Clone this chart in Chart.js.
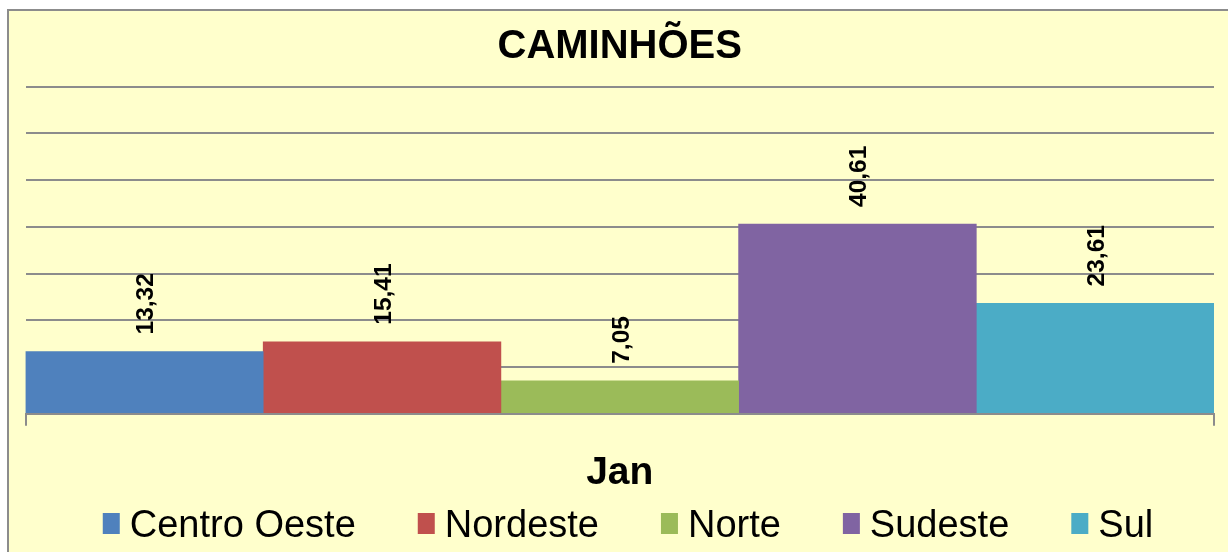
<!DOCTYPE html>
<html>
<head>
<meta charset="utf-8">
<script src="https://cdn.jsdelivr.net/npm/chart.js@4.4.0/dist/chart.umd.min.js"></script>
<style>
    html, body { margin: 0; padding: 0; background: #ffffff; overflow: hidden; }
    #frame {
        position: absolute; left: 7px; top: 9px; width: 1300px; height: 600px;
        background: #ffffcc; border: 2px solid #8c8c8c;
    }
    #chart { position: absolute; left: 0; top: 0; }
</style>
</head>
<body>
<div id="frame"></div>
<canvas id="chart" width="1228" height="552"></canvas>
<script>
// Chart data
const categories = ['Jan'];
const seriesNames = ['Centro Oeste', 'Nordeste', 'Norte', 'Sudeste', 'Sul'];
const seriesValues = [[13.32], [15.41], [7.05], [40.61], [23.61]];
const seriesColors = ['#4f81bd', '#c0504d', '#9bbb59', '#8064a2', '#4bacc6'];
const yTicks = [0, 10, 20, 30, 40, 50, 60, 70];

const FONT = "'Liberation Sans', Arial, sans-serif";
const GRID = '#8c8c8c';

// Rotated value labels above each bar
const valueLabels = {
    id: 'valueLabels',
    afterDatasetsDraw(chart) {
        const ctx = chart.ctx;
        ctx.save();
        ctx.font = 'bold 24.5px ' + FONT;
        ctx.fillStyle = '#000000';
        ctx.textAlign = 'left';
        ctx.textBaseline = 'middle';
        chart.data.datasets.forEach((ds, i) => {
            const meta = chart.getDatasetMeta(i);
            meta.data.forEach((bar, j) => {
                const text = ds.data[j].toFixed(2).replace('.', ',');
                ctx.save();
                ctx.translate(bar.x + 2, bar.y - 17);
                ctx.rotate(-Math.PI / 2);
                ctx.fillText(text, 0, 0);
                ctx.restore();
            });
        });
        ctx.restore();
    }
};

// Legend drawn at the bottom with tight key/text spacing
const bottomLegend = {
    id: 'bottomLegend',
    afterDraw(chart) {
        const ctx = chart.ctx;
        ctx.save();
        ctx.font = '38px ' + FONT;
        const boxW = 17, boxH = 21, gap = 10, spacing = 62;
        const widths = seriesNames.map(n => boxW + gap + ctx.measureText(n).width);
        const total = widths.reduce((a, b) => a + b, 0) + spacing * (widths.length - 1);
        let x = 628 - total / 2;
        const baseY = 537;
        seriesNames.forEach((name, i) => {
            ctx.fillStyle = seriesColors[i];
            ctx.fillRect(x, 513, boxW, boxH);
            ctx.fillStyle = '#000000';
            ctx.textBaseline = 'alphabetic';
            ctx.textAlign = 'left';
            ctx.fillText(name, x + boxW + gap, baseY);
            x += widths[i] + spacing;
        });
        ctx.restore();
    }
};

const datasets = seriesNames.map((name, i) => ({
    label: name,
    data: seriesValues[i],
    backgroundColor: seriesColors[i],
    borderWidth: 0,
    categoryPercentage: 1,
    barPercentage: 1
}));

new Chart(document.getElementById('chart'), {
    type: 'bar',
    data: { labels: categories, datasets: datasets },
    options: {
        responsive: false,
        animation: false,
        layout: { padding: { left: 25.5, right: 14, top: 0, bottom: 31.5 } },
        plugins: {
            legend: { display: false },
            tooltip: { enabled: false },
            title: {
                display: true,
                text: 'CAMINHÕES',
                color: '#000000',
                font: { family: FONT, size: 40, weight: 'bold' },
                padding: { top: 22.5, bottom: 16.2 }
            }
        },
        scales: {
            x: {
                grid: {
                    display: true,
                    drawOnChartArea: false,
                    drawTicks: true,
                    tickLength: 12,
                    color: GRID,
                    lineWidth: 2
                },
                border: { display: true, color: GRID, width: 2 },
                ticks: {
                    color: '#000000',
                    padding: 24,
                    font: { family: FONT, size: 39, weight: 'bold' }
                }
            },
            y: {
                min: yTicks[0],
                max: yTicks[yTicks.length - 1],
                afterBuildTicks: axis => { axis.ticks = yTicks.map(v => ({ value: v })); },
                grid: { color: GRID, lineWidth: 2, drawTicks: false },
                border: { display: false },
                ticks: { display: false }
            }
        }
    },
    plugins: [valueLabels, bottomLegend]
});
</script>
</body>
</html>
